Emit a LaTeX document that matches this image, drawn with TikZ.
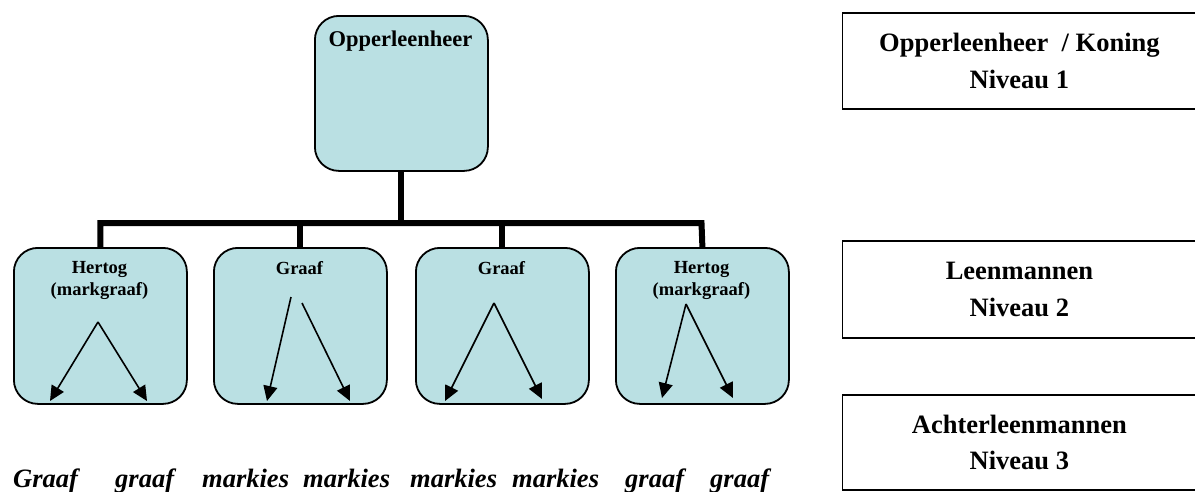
\documentclass[tikz,border=0pt]{standalone}
\usepackage{fontspec}
\setmainfont{Liberation Serif}
\usetikzlibrary{arrows.meta}
\definecolor{boxfill}{RGB}{186,224,227}
\begin{document}
\begin{tikzpicture}[x=1pt,y=-1pt,
  lbox/.style={draw=black, line width=1.8pt, fill=boxfill, rounded corners=24pt,
    minimum width=173pt, minimum height=156pt, anchor=north west, inner sep=0pt},
  rbox/.style={draw=black, line width=1.8pt, minimum width=354pt, anchor=north west,
    inner sep=0pt, align=center, font=\fontsize{26.5}{36.5}\selectfont\bfseries},
  toplbl/.style={anchor=base, inner sep=0pt, font=\fontsize{22.5}{27}\selectfont\bfseries},
  smlbl/.style={inner sep=0pt, align=center, font=\fontsize{18.5}{21.5}\selectfont\bfseries},
  botlbl/.style={anchor=base west, inner sep=0pt, font=\fontsize{26.5}{30}\selectfont\bfseries\itshape},
  conn/.style={draw=black, line width=6pt, line join=miter},
  arr/.style={draw=black, line width=1.6pt, -{Triangle[length=15pt,width=14pt]}}]
\useasboundingbox (0,0) rectangle (1195,491);

% top box
\node[lbox, minimum height=155pt] (top) at (314,15) {};
\node[toplbl] (toptxt) at (400.5,46) {Opperleenheer};

% level-2 boxes
\node[lbox] (b1) at (13,247) {};
\node[lbox] (b2) at (213,247) {};
\node[lbox] (b3) at (415,247) {};
\node[lbox] (b4) at (615,247) {};

\node[smlbl, anchor=north] (t1) at (99.5,261.5) {Hertog\\(markgraaf)};
\node[smlbl, anchor=base] (t2) at (299.5,274) {Graaf};
\node[smlbl, anchor=base] (t3) at (501.5,274) {Graaf};
\node[smlbl, anchor=north] (t4) at (701.5,261.5) {Hertog\\(markgraaf)};

% tree connectors
\coordinate (busR) at (701.5,223);
\draw[conn] (b1.north) |- (busR) -- (b4.north);
\draw[conn] (b2.north) -- (b2.north |- busR);
\draw[conn] (b3.north) -- (b3.north |- busR);
\draw[conn] (top.south) -- (top.south |- busR);

% arrows inside boxes
\coordinate (p1) at (98,322);
\coordinate (q1a) at (50,401);
\coordinate (q1b) at (147,401);
\coordinate (p2a) at (291,297);
\coordinate (q2a) at (267,401);
\coordinate (p2b) at (302,303);
\coordinate (q2b) at (350,401);
\coordinate (p3) at (494,303);
\coordinate (q3a) at (445,401);
\coordinate (q3b) at (542,399);
\coordinate (p4) at (686,304);
\coordinate (q4a) at (662,398);
\coordinate (q4b) at (733,398);
\draw[arr] (p1) -- (q1a);
\draw[arr] (p1) -- (q1b);
\draw[arr] (p2a) -- (q2a);
\draw[arr] (p2b) -- (q2b);
\draw[arr] (p3) -- (q3a);
\draw[arr] (p3) -- (q3b);
\draw[arr] (p4) -- (q4a);
\draw[arr] (p4) -- (q4b);

% bottom labels
\node[botlbl] (l1) at (13,487) {Graaf};
\node[botlbl] (l2) at (115,487) {graaf};
\node[botlbl] (l3) at (202,487) {markies};
\node[botlbl] (l4) at (303,487) {markies};
\node[botlbl] (l5) at (410,487) {markies};
\node[botlbl] (l6) at (512,487) {markies};
\node[botlbl] (l7) at (625,487) {graaf};
\node[botlbl] (l8) at (710,487) {graaf};

% right-hand legend boxes
\node[rbox, minimum height=96pt] (r1) at (841.5,12) {Opperleenheer\ \ / Koning\\Niveau 1};
\node[rbox, minimum height=97pt] (r2) at (841.5,240) {Leenmannen\\Niveau 2};
\node[rbox, minimum height=95pt] (r3) at (841.5,394) {Achterleenmannen\\Niveau 3};
\end{tikzpicture}
\end{document}
